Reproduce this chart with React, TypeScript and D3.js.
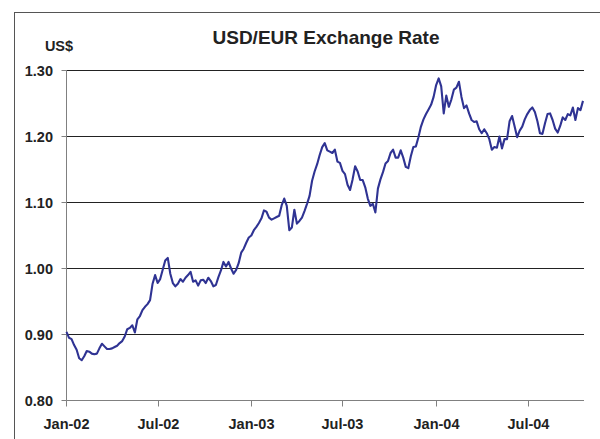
import * as d3 from 'd3'

// ─── Data ─────────────────────────────────────────────────────────────────────

const TITLE = 'USD/EUR Exchange Rate'
const Y_UNIT = 'US$'

// one reading every 5 calendar days starting 1 Jan 2002 (USD per EUR)
const START_DATE = new Date(2002, 0, 1)
const STEP_DAYS = 5
const END_DATE = new Date(2004, 9, 19)

const RATES = [
  0.904, 0.895, 0.893, 0.884, 0.877, 0.864, 0.861, 0.867, 0.875, 0.874,
  0.871, 0.870, 0.871, 0.879, 0.886, 0.882, 0.878, 0.878, 0.879, 0.881,
  0.883, 0.887, 0.890, 0.897, 0.908, 0.910, 0.914, 0.903, 0.923, 0.928,
  0.937, 0.942, 0.946, 0.952, 0.977, 0.990, 0.978, 0.984, 0.998, 1.012,
  1.016, 0.992, 0.978, 0.973, 0.977, 0.984, 0.980, 0.986, 0.990, 0.995,
  0.980, 0.982, 0.974, 0.982, 0.983, 0.978, 0.986, 0.981, 0.973, 0.975,
  0.987, 0.997, 1.010, 1.003, 1.010, 1.000, 0.992, 0.998, 1.008, 1.024,
  1.030, 1.039, 1.047, 1.050, 1.058, 1.063, 1.069, 1.076, 1.088, 1.086,
  1.077, 1.074, 1.076, 1.078, 1.080, 1.096, 1.106, 1.095, 1.058, 1.062,
  1.089, 1.068, 1.072, 1.077, 1.087, 1.098, 1.110, 1.133, 1.147, 1.158,
  1.172, 1.184, 1.190, 1.179, 1.177, 1.175, 1.180, 1.162, 1.160, 1.148,
  1.143, 1.127, 1.119, 1.135, 1.155, 1.147, 1.134, 1.134, 1.123, 1.106,
  1.095, 1.098, 1.085, 1.121, 1.135, 1.146, 1.159, 1.163, 1.175, 1.180,
  1.168, 1.168, 1.179, 1.168, 1.154, 1.152, 1.170, 1.184, 1.185, 1.199,
  1.215, 1.226, 1.234, 1.241, 1.248, 1.260, 1.278, 1.288, 1.276, 1.235,
  1.262, 1.245, 1.256, 1.271, 1.274, 1.283, 1.260, 1.243, 1.247, 1.235,
  1.225, 1.222, 1.223, 1.211, 1.205, 1.211, 1.205, 1.196, 1.180, 1.184,
  1.183, 1.200, 1.182, 1.196, 1.196, 1.223, 1.231, 1.215, 1.199, 1.209,
  1.215, 1.226, 1.234, 1.240, 1.244, 1.237, 1.223, 1.205, 1.204, 1.220,
  1.234, 1.235, 1.225, 1.212, 1.206, 1.216, 1.229, 1.225, 1.234, 1.232,
  1.244, 1.225, 1.243, 1.240, 1.254,
]

const X_TICKS = ['2002-01-01', '2002-07-01', '2003-01-01', '2003-07-01', '2004-01-01', '2004-07-01']
const Y_TICKS = [0.8, 0.9, 1.0, 1.1, 1.2, 1.3]

// ─── Layout ───────────────────────────────────────────────────────────────────

const W = 600
const H = 439
const PLOT = { left: 66.5, right: 584, top: 70.5, bottom: 400.5 }
const LINE_COLOR = '#2f3393'
const FONT = '"Liberation Sans", Arial, Helvetica, sans-serif'

interface Point { date: Date; v: number }

const points: Point[] = RATES.map((v, i) => ({
  date: d3.timeDay.offset(START_DATE, i * STEP_DAYS),
  v,
}))

// ─── Chart ────────────────────────────────────────────────────────────────────

export default function App() {
  const x = d3.scaleTime().domain([START_DATE, END_DATE]).range([PLOT.left, PLOT.right])
  const y = d3.scaleLinear().domain([0.8, 1.3]).range([PLOT.bottom, PLOT.top])
  const fmtX = d3.timeFormat('%b-%y')
  const parse = d3.timeParse('%Y-%m-%d')

  const line = d3.line<Point>()
    .x((d) => x(d.date))
    .y((d) => y(d.v))

  return (
    <div style={{ position: 'absolute', left: 0, top: 0, width: W, height: H, background: '#fff' }}>
      <svg width={W} height={H} style={{ display: 'block' }} fontFamily={FONT}>
        <rect x={0} y={0} width={W} height={H} fill="#fff" />
        {/* chart frame */}
        <rect x={14.5} y={12.5} width={W} height={H} fill="none" stroke="#555" strokeWidth={1} />

        <text x={326} y={44} textAnchor="middle" fontSize={19} fontWeight="bold" fill="#222">
          {TITLE}
        </text>
        <text x={59} y={51} textAnchor="middle" fontSize={14.5} fontWeight="bold" fill="#222">
          {Y_UNIT}
        </text>

        {/* gridlines + y labels */}
        {Y_TICKS.map((t) => {
          const yy = Math.round(y(t) - 0.5) + 0.5
          return (
            <g key={t}>
              {t > 0.8 && (
                <line x1={PLOT.left} x2={PLOT.right} y1={yy} y2={yy} stroke="#222" strokeWidth={1} />
              )}
              <line x1={PLOT.left - 5} x2={PLOT.left} y1={yy} y2={yy} stroke="#808080" strokeWidth={1} />
              <text x={53} y={yy} dy="0.36em" textAnchor="end" fontSize={14.5} fontWeight="bold" fill="#222">
                {d3.format('.2f')(t)}
              </text>
            </g>
          )
        })}

        {/* axes */}
        <line x1={PLOT.left} x2={PLOT.left} y1={PLOT.top} y2={PLOT.bottom} stroke="#808080" strokeWidth={1} />
        <line x1={PLOT.left} x2={PLOT.right} y1={PLOT.bottom} y2={PLOT.bottom} stroke="#808080" strokeWidth={1} />

        {X_TICKS.map((s) => {
          const d = parse(s) as Date
          const xx = Math.round(x(d) - 0.5) + 0.5
          return (
            <g key={s}>
              <line x1={xx} x2={xx} y1={PLOT.bottom} y2={PLOT.bottom + 6} stroke="#808080" strokeWidth={1} />
              <text x={xx} y={429} textAnchor="middle" fontSize={14.5} fontWeight="bold" fill="#222">
                {fmtX(d)}
              </text>
            </g>
          )
        })}

        {/* exchange rate line */}
        <path d={line(points) ?? ''} fill="none" stroke={LINE_COLOR} strokeWidth={2.1} strokeLinejoin="round" />
      </svg>
    </div>
  )
}
